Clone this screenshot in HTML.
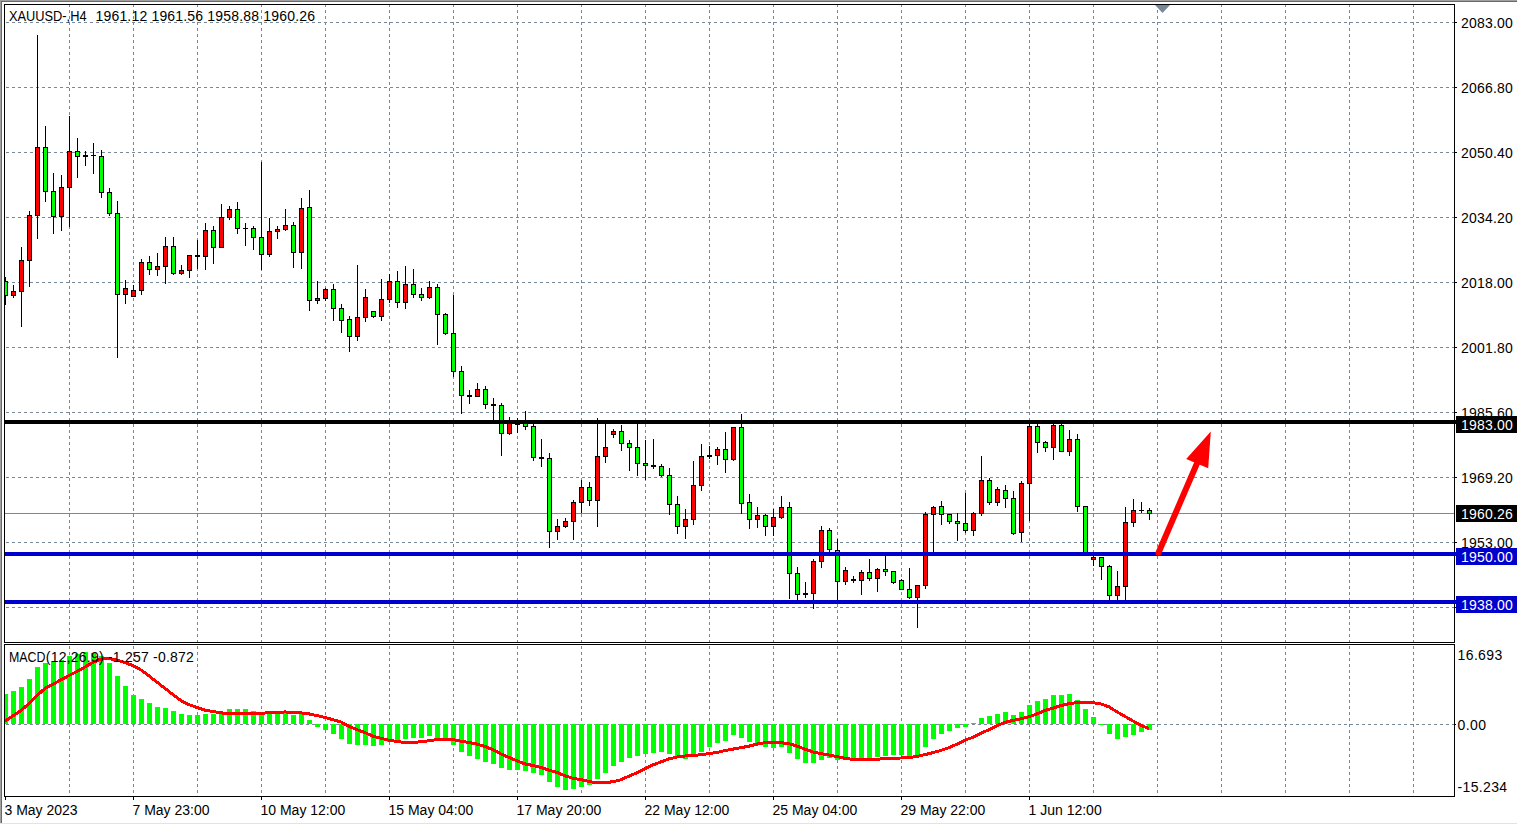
<!DOCTYPE html>
<html><head><meta charset="utf-8"><title>XAUUSD H4</title>
<style>html,body{margin:0;padding:0;background:#fff;overflow:hidden}body{width:1517px;height:825px;position:relative;font-family:"Liberation Sans",sans-serif}svg{position:absolute;left:0;top:0;display:block}text{font-family:"Liberation Sans",sans-serif;font-size:14px;fill:#000}.w{fill:#fff}</style></head><body>
<svg width="1517" height="825" viewBox="0 0 1517 825">
<rect x="0" y="0" width="1517" height="825" fill="#ffffff"/>
<rect x="0" y="0" width="1517" height="1" fill="#a0a0a0"/>
<rect x="0" y="0" width="1" height="823" fill="#a0a0a0"/>
<rect x="1" y="1" width="1516" height="1" fill="#696969"/>
<rect x="1" y="1" width="1" height="822" fill="#696969"/>
<rect x="0" y="823" width="1517" height="1" fill="#e3e3e3"/>
<defs><clipPath id="cp"><rect x="5" y="0" width="1449" height="825"/></clipPath></defs>
<g shape-rendering="crispEdges">
<line x1="69.5" y1="4" x2="69.5" y2="642" stroke="#778899" stroke-width="1" stroke-dasharray="3 3" stroke-dashoffset="0"/>
<line x1="69.5" y1="646" x2="69.5" y2="796" stroke="#778899" stroke-width="1" stroke-dasharray="3 3" stroke-dashoffset="0"/>
<line x1="133.5" y1="4" x2="133.5" y2="642" stroke="#778899" stroke-width="1" stroke-dasharray="3 3" stroke-dashoffset="0"/>
<line x1="133.5" y1="646" x2="133.5" y2="796" stroke="#778899" stroke-width="1" stroke-dasharray="3 3" stroke-dashoffset="0"/>
<line x1="197.5" y1="4" x2="197.5" y2="642" stroke="#778899" stroke-width="1" stroke-dasharray="3 3" stroke-dashoffset="0"/>
<line x1="197.5" y1="646" x2="197.5" y2="796" stroke="#778899" stroke-width="1" stroke-dasharray="3 3" stroke-dashoffset="0"/>
<line x1="261.5" y1="4" x2="261.5" y2="642" stroke="#778899" stroke-width="1" stroke-dasharray="3 3" stroke-dashoffset="0"/>
<line x1="261.5" y1="646" x2="261.5" y2="796" stroke="#778899" stroke-width="1" stroke-dasharray="3 3" stroke-dashoffset="0"/>
<line x1="325.5" y1="4" x2="325.5" y2="642" stroke="#778899" stroke-width="1" stroke-dasharray="3 3" stroke-dashoffset="0"/>
<line x1="325.5" y1="646" x2="325.5" y2="796" stroke="#778899" stroke-width="1" stroke-dasharray="3 3" stroke-dashoffset="0"/>
<line x1="389.5" y1="4" x2="389.5" y2="642" stroke="#778899" stroke-width="1" stroke-dasharray="3 3" stroke-dashoffset="0"/>
<line x1="389.5" y1="646" x2="389.5" y2="796" stroke="#778899" stroke-width="1" stroke-dasharray="3 3" stroke-dashoffset="0"/>
<line x1="453.5" y1="4" x2="453.5" y2="642" stroke="#778899" stroke-width="1" stroke-dasharray="3 3" stroke-dashoffset="0"/>
<line x1="453.5" y1="646" x2="453.5" y2="796" stroke="#778899" stroke-width="1" stroke-dasharray="3 3" stroke-dashoffset="0"/>
<line x1="517.5" y1="4" x2="517.5" y2="642" stroke="#778899" stroke-width="1" stroke-dasharray="3 3" stroke-dashoffset="0"/>
<line x1="517.5" y1="646" x2="517.5" y2="796" stroke="#778899" stroke-width="1" stroke-dasharray="3 3" stroke-dashoffset="0"/>
<line x1="581.5" y1="4" x2="581.5" y2="642" stroke="#778899" stroke-width="1" stroke-dasharray="3 3" stroke-dashoffset="0"/>
<line x1="581.5" y1="646" x2="581.5" y2="796" stroke="#778899" stroke-width="1" stroke-dasharray="3 3" stroke-dashoffset="0"/>
<line x1="645.5" y1="4" x2="645.5" y2="642" stroke="#778899" stroke-width="1" stroke-dasharray="3 3" stroke-dashoffset="0"/>
<line x1="645.5" y1="646" x2="645.5" y2="796" stroke="#778899" stroke-width="1" stroke-dasharray="3 3" stroke-dashoffset="0"/>
<line x1="709.5" y1="4" x2="709.5" y2="642" stroke="#778899" stroke-width="1" stroke-dasharray="3 3" stroke-dashoffset="0"/>
<line x1="709.5" y1="646" x2="709.5" y2="796" stroke="#778899" stroke-width="1" stroke-dasharray="3 3" stroke-dashoffset="0"/>
<line x1="773.5" y1="4" x2="773.5" y2="642" stroke="#778899" stroke-width="1" stroke-dasharray="3 3" stroke-dashoffset="0"/>
<line x1="773.5" y1="646" x2="773.5" y2="796" stroke="#778899" stroke-width="1" stroke-dasharray="3 3" stroke-dashoffset="0"/>
<line x1="837.5" y1="4" x2="837.5" y2="642" stroke="#778899" stroke-width="1" stroke-dasharray="3 3" stroke-dashoffset="0"/>
<line x1="837.5" y1="646" x2="837.5" y2="796" stroke="#778899" stroke-width="1" stroke-dasharray="3 3" stroke-dashoffset="0"/>
<line x1="901.5" y1="4" x2="901.5" y2="642" stroke="#778899" stroke-width="1" stroke-dasharray="3 3" stroke-dashoffset="0"/>
<line x1="901.5" y1="646" x2="901.5" y2="796" stroke="#778899" stroke-width="1" stroke-dasharray="3 3" stroke-dashoffset="0"/>
<line x1="965.5" y1="4" x2="965.5" y2="642" stroke="#778899" stroke-width="1" stroke-dasharray="3 3" stroke-dashoffset="0"/>
<line x1="965.5" y1="646" x2="965.5" y2="796" stroke="#778899" stroke-width="1" stroke-dasharray="3 3" stroke-dashoffset="0"/>
<line x1="1029.5" y1="4" x2="1029.5" y2="642" stroke="#778899" stroke-width="1" stroke-dasharray="3 3" stroke-dashoffset="0"/>
<line x1="1029.5" y1="646" x2="1029.5" y2="796" stroke="#778899" stroke-width="1" stroke-dasharray="3 3" stroke-dashoffset="0"/>
<line x1="1093.5" y1="4" x2="1093.5" y2="642" stroke="#778899" stroke-width="1" stroke-dasharray="3 3" stroke-dashoffset="0"/>
<line x1="1093.5" y1="646" x2="1093.5" y2="796" stroke="#778899" stroke-width="1" stroke-dasharray="3 3" stroke-dashoffset="0"/>
<line x1="1157.5" y1="4" x2="1157.5" y2="642" stroke="#778899" stroke-width="1" stroke-dasharray="3 3" stroke-dashoffset="0"/>
<line x1="1157.5" y1="646" x2="1157.5" y2="796" stroke="#778899" stroke-width="1" stroke-dasharray="3 3" stroke-dashoffset="0"/>
<line x1="1221.5" y1="4" x2="1221.5" y2="642" stroke="#778899" stroke-width="1" stroke-dasharray="3 3" stroke-dashoffset="0"/>
<line x1="1221.5" y1="646" x2="1221.5" y2="796" stroke="#778899" stroke-width="1" stroke-dasharray="3 3" stroke-dashoffset="0"/>
<line x1="1285.5" y1="4" x2="1285.5" y2="642" stroke="#778899" stroke-width="1" stroke-dasharray="3 3" stroke-dashoffset="0"/>
<line x1="1285.5" y1="646" x2="1285.5" y2="796" stroke="#778899" stroke-width="1" stroke-dasharray="3 3" stroke-dashoffset="0"/>
<line x1="1349.5" y1="4" x2="1349.5" y2="642" stroke="#778899" stroke-width="1" stroke-dasharray="3 3" stroke-dashoffset="0"/>
<line x1="1349.5" y1="646" x2="1349.5" y2="796" stroke="#778899" stroke-width="1" stroke-dasharray="3 3" stroke-dashoffset="0"/>
<line x1="1413.5" y1="4" x2="1413.5" y2="642" stroke="#778899" stroke-width="1" stroke-dasharray="3 3" stroke-dashoffset="0"/>
<line x1="1413.5" y1="646" x2="1413.5" y2="796" stroke="#778899" stroke-width="1" stroke-dasharray="3 3" stroke-dashoffset="0"/>
<line x1="6" y1="22.5" x2="1454" y2="22.5" stroke="#778899" stroke-width="1" stroke-dasharray="3 3" stroke-dashoffset="0"/>
<line x1="6" y1="87.5" x2="1454" y2="87.5" stroke="#778899" stroke-width="1" stroke-dasharray="3 3" stroke-dashoffset="0"/>
<line x1="6" y1="152.5" x2="1454" y2="152.5" stroke="#778899" stroke-width="1" stroke-dasharray="3 3" stroke-dashoffset="0"/>
<line x1="6" y1="217.5" x2="1454" y2="217.5" stroke="#778899" stroke-width="1" stroke-dasharray="3 3" stroke-dashoffset="0"/>
<line x1="6" y1="282.5" x2="1454" y2="282.5" stroke="#778899" stroke-width="1" stroke-dasharray="3 3" stroke-dashoffset="0"/>
<line x1="6" y1="347.5" x2="1454" y2="347.5" stroke="#778899" stroke-width="1" stroke-dasharray="3 3" stroke-dashoffset="0"/>
<line x1="6" y1="412.5" x2="1454" y2="412.5" stroke="#778899" stroke-width="1" stroke-dasharray="3 3" stroke-dashoffset="0"/>
<line x1="6" y1="477.5" x2="1454" y2="477.5" stroke="#778899" stroke-width="1" stroke-dasharray="3 3" stroke-dashoffset="0"/>
<line x1="6" y1="542.5" x2="1454" y2="542.5" stroke="#778899" stroke-width="1" stroke-dasharray="3 3" stroke-dashoffset="0"/>
<line x1="6" y1="607.5" x2="1454" y2="607.5" stroke="#778899" stroke-width="1" stroke-dasharray="3 3" stroke-dashoffset="0"/>
<line x1="6" y1="724.5" x2="1454" y2="724.5" stroke="#778899" stroke-width="1" stroke-dasharray="3 3" stroke-dashoffset="0"/>
<rect x="5" y="513" width="1449" height="1" fill="#778899"/>
</g>
<g shape-rendering="crispEdges" clip-path="url(#cp)">
<rect x="3" y="694" width="5" height="30" fill="#00ff00"/>
<rect x="11" y="691" width="5" height="33" fill="#00ff00"/>
<rect x="19" y="687" width="5" height="37" fill="#00ff00"/>
<rect x="27" y="679" width="5" height="45" fill="#00ff00"/>
<rect x="35" y="667" width="5" height="57" fill="#00ff00"/>
<rect x="43" y="663" width="5" height="61" fill="#00ff00"/>
<rect x="51" y="661" width="5" height="63" fill="#00ff00"/>
<rect x="59" y="660" width="5" height="64" fill="#00ff00"/>
<rect x="67" y="656" width="5" height="68" fill="#00ff00"/>
<rect x="75" y="654" width="5" height="70" fill="#00ff00"/>
<rect x="83" y="652" width="5" height="72" fill="#00ff00"/>
<rect x="91" y="653" width="5" height="71" fill="#00ff00"/>
<rect x="99" y="656" width="5" height="68" fill="#00ff00"/>
<rect x="107" y="663" width="5" height="61" fill="#00ff00"/>
<rect x="115" y="676" width="5" height="48" fill="#00ff00"/>
<rect x="123" y="686" width="5" height="38" fill="#00ff00"/>
<rect x="131" y="695" width="5" height="29" fill="#00ff00"/>
<rect x="139" y="699" width="5" height="25" fill="#00ff00"/>
<rect x="147" y="703" width="5" height="21" fill="#00ff00"/>
<rect x="155" y="707" width="5" height="17" fill="#00ff00"/>
<rect x="163" y="708" width="5" height="16" fill="#00ff00"/>
<rect x="171" y="711" width="5" height="13" fill="#00ff00"/>
<rect x="179" y="714" width="5" height="10" fill="#00ff00"/>
<rect x="187" y="715" width="5" height="9" fill="#00ff00"/>
<rect x="195" y="715" width="5" height="9" fill="#00ff00"/>
<rect x="203" y="714" width="5" height="10" fill="#00ff00"/>
<rect x="211" y="714" width="5" height="10" fill="#00ff00"/>
<rect x="219" y="712" width="5" height="12" fill="#00ff00"/>
<rect x="227" y="709" width="5" height="15" fill="#00ff00"/>
<rect x="235" y="709" width="5" height="15" fill="#00ff00"/>
<rect x="243" y="709" width="5" height="15" fill="#00ff00"/>
<rect x="251" y="711" width="5" height="13" fill="#00ff00"/>
<rect x="259" y="712" width="5" height="12" fill="#00ff00"/>
<rect x="267" y="712" width="5" height="12" fill="#00ff00"/>
<rect x="275" y="712" width="5" height="12" fill="#00ff00"/>
<rect x="283" y="711" width="5" height="13" fill="#00ff00"/>
<rect x="291" y="715" width="5" height="9" fill="#00ff00"/>
<rect x="299" y="714" width="5" height="10" fill="#00ff00"/>
<rect x="307" y="720" width="5" height="4" fill="#00ff00"/>
<rect x="315" y="724" width="5" height="3" fill="#00ff00"/>
<rect x="323" y="724" width="5" height="6" fill="#00ff00"/>
<rect x="331" y="724" width="5" height="10" fill="#00ff00"/>
<rect x="339" y="724" width="5" height="15" fill="#00ff00"/>
<rect x="347" y="724" width="5" height="20" fill="#00ff00"/>
<rect x="355" y="724" width="5" height="21" fill="#00ff00"/>
<rect x="363" y="724" width="5" height="21" fill="#00ff00"/>
<rect x="371" y="724" width="5" height="22" fill="#00ff00"/>
<rect x="379" y="724" width="5" height="21" fill="#00ff00"/>
<rect x="387" y="724" width="5" height="18" fill="#00ff00"/>
<rect x="395" y="724" width="5" height="17" fill="#00ff00"/>
<rect x="403" y="724" width="5" height="15" fill="#00ff00"/>
<rect x="411" y="724" width="5" height="14" fill="#00ff00"/>
<rect x="419" y="724" width="5" height="14" fill="#00ff00"/>
<rect x="427" y="724" width="5" height="12" fill="#00ff00"/>
<rect x="435" y="724" width="5" height="15" fill="#00ff00"/>
<rect x="443" y="724" width="5" height="16" fill="#00ff00"/>
<rect x="451" y="724" width="5" height="21" fill="#00ff00"/>
<rect x="459" y="724" width="5" height="28" fill="#00ff00"/>
<rect x="467" y="724" width="5" height="32" fill="#00ff00"/>
<rect x="475" y="724" width="5" height="35" fill="#00ff00"/>
<rect x="483" y="724" width="5" height="38" fill="#00ff00"/>
<rect x="491" y="724" width="5" height="40" fill="#00ff00"/>
<rect x="499" y="724" width="5" height="44" fill="#00ff00"/>
<rect x="507" y="724" width="5" height="46" fill="#00ff00"/>
<rect x="515" y="724" width="5" height="46" fill="#00ff00"/>
<rect x="523" y="724" width="5" height="47" fill="#00ff00"/>
<rect x="531" y="724" width="5" height="49" fill="#00ff00"/>
<rect x="539" y="724" width="5" height="51" fill="#00ff00"/>
<rect x="547" y="724" width="5" height="58" fill="#00ff00"/>
<rect x="555" y="724" width="5" height="63" fill="#00ff00"/>
<rect x="563" y="724" width="5" height="66" fill="#00ff00"/>
<rect x="571" y="724" width="5" height="65" fill="#00ff00"/>
<rect x="579" y="724" width="5" height="63" fill="#00ff00"/>
<rect x="587" y="724" width="5" height="61" fill="#00ff00"/>
<rect x="595" y="724" width="5" height="55" fill="#00ff00"/>
<rect x="603" y="724" width="5" height="49" fill="#00ff00"/>
<rect x="611" y="724" width="5" height="42" fill="#00ff00"/>
<rect x="619" y="724" width="5" height="38" fill="#00ff00"/>
<rect x="627" y="724" width="5" height="34" fill="#00ff00"/>
<rect x="635" y="724" width="5" height="32" fill="#00ff00"/>
<rect x="643" y="724" width="5" height="30" fill="#00ff00"/>
<rect x="651" y="724" width="5" height="29" fill="#00ff00"/>
<rect x="659" y="724" width="5" height="28" fill="#00ff00"/>
<rect x="667" y="724" width="5" height="30" fill="#00ff00"/>
<rect x="675" y="724" width="5" height="33" fill="#00ff00"/>
<rect x="683" y="724" width="5" height="35" fill="#00ff00"/>
<rect x="691" y="724" width="5" height="32" fill="#00ff00"/>
<rect x="699" y="724" width="5" height="28" fill="#00ff00"/>
<rect x="707" y="724" width="5" height="23" fill="#00ff00"/>
<rect x="715" y="724" width="5" height="19" fill="#00ff00"/>
<rect x="723" y="724" width="5" height="17" fill="#00ff00"/>
<rect x="731" y="724" width="5" height="11" fill="#00ff00"/>
<rect x="739" y="724" width="5" height="14" fill="#00ff00"/>
<rect x="747" y="724" width="5" height="18" fill="#00ff00"/>
<rect x="755" y="724" width="5" height="19" fill="#00ff00"/>
<rect x="763" y="724" width="5" height="23" fill="#00ff00"/>
<rect x="771" y="724" width="5" height="24" fill="#00ff00"/>
<rect x="779" y="724" width="5" height="23" fill="#00ff00"/>
<rect x="787" y="724" width="5" height="29" fill="#00ff00"/>
<rect x="795" y="724" width="5" height="35" fill="#00ff00"/>
<rect x="803" y="724" width="5" height="39" fill="#00ff00"/>
<rect x="811" y="724" width="5" height="39" fill="#00ff00"/>
<rect x="819" y="724" width="5" height="36" fill="#00ff00"/>
<rect x="827" y="724" width="5" height="34" fill="#00ff00"/>
<rect x="835" y="724" width="5" height="36" fill="#00ff00"/>
<rect x="843" y="724" width="5" height="36" fill="#00ff00"/>
<rect x="851" y="724" width="5" height="36" fill="#00ff00"/>
<rect x="859" y="724" width="5" height="35" fill="#00ff00"/>
<rect x="867" y="724" width="5" height="35" fill="#00ff00"/>
<rect x="875" y="724" width="5" height="33" fill="#00ff00"/>
<rect x="883" y="724" width="5" height="32" fill="#00ff00"/>
<rect x="891" y="724" width="5" height="31" fill="#00ff00"/>
<rect x="899" y="724" width="5" height="31" fill="#00ff00"/>
<rect x="907" y="724" width="5" height="32" fill="#00ff00"/>
<rect x="915" y="724" width="5" height="32" fill="#00ff00"/>
<rect x="923" y="724" width="5" height="23" fill="#00ff00"/>
<rect x="931" y="724" width="5" height="15" fill="#00ff00"/>
<rect x="939" y="724" width="5" height="10" fill="#00ff00"/>
<rect x="947" y="724" width="5" height="7" fill="#00ff00"/>
<rect x="955" y="724" width="5" height="4" fill="#00ff00"/>
<rect x="963" y="724" width="5" height="3" fill="#00ff00"/>
<rect x="971" y="723" width="5" height="1" fill="#00ff00"/>
<rect x="979" y="718" width="5" height="6" fill="#00ff00"/>
<rect x="987" y="716" width="5" height="8" fill="#00ff00"/>
<rect x="995" y="714" width="5" height="10" fill="#00ff00"/>
<rect x="1003" y="712" width="5" height="12" fill="#00ff00"/>
<rect x="1011" y="715" width="5" height="9" fill="#00ff00"/>
<rect x="1019" y="712" width="5" height="12" fill="#00ff00"/>
<rect x="1027" y="705" width="5" height="19" fill="#00ff00"/>
<rect x="1035" y="701" width="5" height="23" fill="#00ff00"/>
<rect x="1043" y="699" width="5" height="25" fill="#00ff00"/>
<rect x="1051" y="695" width="5" height="29" fill="#00ff00"/>
<rect x="1059" y="695" width="5" height="29" fill="#00ff00"/>
<rect x="1067" y="694" width="5" height="30" fill="#00ff00"/>
<rect x="1075" y="700" width="5" height="24" fill="#00ff00"/>
<rect x="1083" y="709" width="5" height="15" fill="#00ff00"/>
<rect x="1091" y="717" width="5" height="7" fill="#00ff00"/>
<rect x="1099" y="724" width="5" height="1" fill="#00ff00"/>
<rect x="1107" y="724" width="5" height="10" fill="#00ff00"/>
<rect x="1115" y="724" width="5" height="15" fill="#00ff00"/>
<rect x="1123" y="724" width="5" height="13" fill="#00ff00"/>
<rect x="1131" y="724" width="5" height="11" fill="#00ff00"/>
<rect x="1139" y="724" width="5" height="8" fill="#00ff00"/>
<rect x="1147" y="724" width="5" height="6" fill="#00ff00"/>
</g>
<polyline points="5,721.3 13,716.0 21,710.5 29,703.6 37,695.7 45,688.3 53,684.2 61,679.8 69,675.5 77,671.5 85,667.0 93,662.4 101,659.1 109,658.7 117,660.1 125,662.6 133,665.6 141,670.0 149,675.9 157,682.2 165,688.3 173,694.7 181,700.6 189,704.6 197,707.5 205,710.1 213,711.5 221,712.9 229,713.5 237,713.5 245,713.5 253,713.1 261,713.1 269,712.9 277,712.7 285,711.9 293,712.9 301,712.9 309,713.9 317,715.6 325,717.4 333,719.8 341,722.0 349,726.3 357,729.7 365,732.6 373,736.2 381,738.2 389,740.2 397,741.5 405,742.5 413,742.5 421,741.7 429,740.8 437,739.6 445,739.6 453,739.6 461,741.2 469,742.5 477,744.1 485,746.5 493,749.7 501,754.0 509,757.4 517,760.9 525,763.9 533,765.5 541,767.5 549,770.2 557,772.4 565,775.8 573,778.3 581,779.7 589,781.5 597,782.7 605,782.7 613,781.7 621,779.7 629,776.1 637,772.8 645,768.8 653,764.9 661,761.9 669,758.9 677,757.0 685,756.0 693,755.6 701,754.6 709,753.6 717,752.4 725,750.6 733,749.1 741,747.7 749,746.1 757,744.1 765,742.7 773,742.7 781,742.7 789,743.7 797,746.1 805,749.1 813,752.0 821,753.6 829,755.0 837,756.6 845,758.3 853,759.5 861,759.5 869,759.5 877,759.3 885,758.6 893,758.2 901,758.0 909,757.6 917,756.4 925,754.6 933,752.6 941,750.4 949,747.7 957,744.1 965,740.2 973,737.2 981,733.2 989,729.7 997,725.7 1005,722.4 1013,720.4 1021,718.8 1029,716.8 1037,713.9 1045,710.5 1053,708.1 1061,705.6 1069,703.6 1077,702.6 1085,702.0 1093,702.6 1101,704.0 1109,706.9 1117,711.9 1125,716.4 1133,721.0 1141,725.3 1149,728.7" fill="none" stroke="#ff0000" stroke-width="3" stroke-linejoin="round" stroke-linecap="butt" clip-path="url(#cp)" shape-rendering="crispEdges"/>
<g shape-rendering="crispEdges" clip-path="url(#cp)">
<rect x="5" y="277" width="1" height="28" fill="#000"/>
<rect x="3" y="281" width="5" height="15" fill="#000"/>
<rect x="4" y="282" width="3" height="13" fill="#00ff00"/>
<rect x="13" y="285" width="1" height="13" fill="#000"/>
<rect x="11" y="291" width="5" height="5" fill="#000"/>
<rect x="12" y="292" width="3" height="3" fill="#ff0000"/>
<rect x="21" y="247" width="1" height="80" fill="#000"/>
<rect x="19" y="260" width="5" height="32" fill="#000"/>
<rect x="20" y="261" width="3" height="30" fill="#ff0000"/>
<rect x="29" y="211" width="1" height="76" fill="#000"/>
<rect x="27" y="215" width="5" height="46" fill="#000"/>
<rect x="28" y="216" width="3" height="44" fill="#ff0000"/>
<rect x="37" y="35" width="1" height="204" fill="#000"/>
<rect x="35" y="147" width="5" height="69" fill="#000"/>
<rect x="36" y="148" width="3" height="67" fill="#ff0000"/>
<rect x="45" y="126" width="1" height="76" fill="#000"/>
<rect x="43" y="147" width="5" height="45" fill="#000"/>
<rect x="44" y="148" width="3" height="43" fill="#00ff00"/>
<rect x="53" y="173" width="1" height="61" fill="#000"/>
<rect x="51" y="191" width="5" height="26" fill="#000"/>
<rect x="52" y="192" width="3" height="24" fill="#00ff00"/>
<rect x="61" y="175" width="1" height="56" fill="#000"/>
<rect x="59" y="187" width="5" height="30" fill="#000"/>
<rect x="60" y="188" width="3" height="28" fill="#ff0000"/>
<rect x="69" y="116" width="1" height="111" fill="#000"/>
<rect x="67" y="151" width="5" height="37" fill="#000"/>
<rect x="68" y="152" width="3" height="35" fill="#ff0000"/>
<rect x="77" y="138" width="1" height="40" fill="#000"/>
<rect x="75" y="151" width="5" height="6" fill="#000"/>
<rect x="76" y="152" width="3" height="4" fill="#00ff00"/>
<rect x="85" y="151" width="1" height="15" fill="#000"/>
<rect x="83" y="155" width="5" height="2" fill="#000"/>
<rect x="93" y="143" width="1" height="31" fill="#000"/>
<rect x="91" y="155" width="5" height="1" fill="#000"/>
<rect x="101" y="150" width="1" height="48" fill="#000"/>
<rect x="99" y="156" width="5" height="37" fill="#000"/>
<rect x="100" y="157" width="3" height="35" fill="#00ff00"/>
<rect x="109" y="188" width="1" height="28" fill="#000"/>
<rect x="107" y="192" width="5" height="22" fill="#000"/>
<rect x="108" y="193" width="3" height="20" fill="#00ff00"/>
<rect x="117" y="201" width="1" height="157" fill="#000"/>
<rect x="115" y="213" width="5" height="82" fill="#000"/>
<rect x="116" y="214" width="3" height="80" fill="#00ff00"/>
<rect x="125" y="280" width="1" height="24" fill="#000"/>
<rect x="123" y="288" width="5" height="7" fill="#000"/>
<rect x="124" y="289" width="3" height="5" fill="#ff0000"/>
<rect x="133" y="285" width="1" height="12" fill="#000"/>
<rect x="131" y="290" width="5" height="7" fill="#000"/>
<rect x="132" y="291" width="3" height="5" fill="#ff0000"/>
<rect x="141" y="259" width="1" height="36" fill="#000"/>
<rect x="139" y="262" width="5" height="29" fill="#000"/>
<rect x="140" y="263" width="3" height="27" fill="#ff0000"/>
<rect x="149" y="256" width="1" height="19" fill="#000"/>
<rect x="147" y="262" width="5" height="8" fill="#000"/>
<rect x="148" y="263" width="3" height="6" fill="#00ff00"/>
<rect x="157" y="253" width="1" height="23" fill="#000"/>
<rect x="155" y="266" width="5" height="4" fill="#000"/>
<rect x="156" y="267" width="3" height="2" fill="#ff0000"/>
<rect x="165" y="237" width="1" height="47" fill="#000"/>
<rect x="163" y="246" width="5" height="21" fill="#000"/>
<rect x="164" y="247" width="3" height="19" fill="#ff0000"/>
<rect x="173" y="237" width="1" height="38" fill="#000"/>
<rect x="171" y="246" width="5" height="28" fill="#000"/>
<rect x="172" y="247" width="3" height="26" fill="#00ff00"/>
<rect x="181" y="265" width="1" height="10" fill="#000"/>
<rect x="179" y="270" width="5" height="4" fill="#000"/>
<rect x="180" y="271" width="3" height="2" fill="#ff0000"/>
<rect x="189" y="255" width="1" height="23" fill="#000"/>
<rect x="187" y="255" width="5" height="16" fill="#000"/>
<rect x="188" y="256" width="3" height="14" fill="#ff0000"/>
<rect x="197" y="240" width="1" height="29" fill="#000"/>
<rect x="195" y="255" width="5" height="2" fill="#000"/>
<rect x="205" y="223" width="1" height="47" fill="#000"/>
<rect x="203" y="230" width="5" height="27" fill="#000"/>
<rect x="204" y="231" width="3" height="25" fill="#ff0000"/>
<rect x="213" y="226" width="1" height="38" fill="#000"/>
<rect x="211" y="230" width="5" height="18" fill="#000"/>
<rect x="212" y="231" width="3" height="16" fill="#00ff00"/>
<rect x="221" y="204" width="1" height="44" fill="#000"/>
<rect x="219" y="217" width="5" height="31" fill="#000"/>
<rect x="220" y="218" width="3" height="29" fill="#ff0000"/>
<rect x="229" y="206" width="1" height="14" fill="#000"/>
<rect x="227" y="209" width="5" height="9" fill="#000"/>
<rect x="228" y="210" width="3" height="7" fill="#ff0000"/>
<rect x="237" y="202" width="1" height="32" fill="#000"/>
<rect x="235" y="209" width="5" height="20" fill="#000"/>
<rect x="236" y="210" width="3" height="18" fill="#00ff00"/>
<rect x="245" y="223" width="1" height="23" fill="#000"/>
<rect x="243" y="228" width="5" height="1" fill="#000"/>
<rect x="253" y="226" width="1" height="24" fill="#000"/>
<rect x="251" y="228" width="5" height="10" fill="#000"/>
<rect x="252" y="229" width="3" height="8" fill="#00ff00"/>
<rect x="261" y="162" width="1" height="108" fill="#000"/>
<rect x="259" y="237" width="5" height="18" fill="#000"/>
<rect x="260" y="238" width="3" height="16" fill="#00ff00"/>
<rect x="269" y="218" width="1" height="39" fill="#000"/>
<rect x="267" y="231" width="5" height="24" fill="#000"/>
<rect x="268" y="232" width="3" height="22" fill="#ff0000"/>
<rect x="277" y="226" width="1" height="13" fill="#000"/>
<rect x="275" y="229" width="5" height="3" fill="#000"/>
<rect x="276" y="230" width="3" height="1" fill="#ff0000"/>
<rect x="285" y="209" width="1" height="22" fill="#000"/>
<rect x="283" y="225" width="5" height="5" fill="#000"/>
<rect x="284" y="226" width="3" height="3" fill="#ff0000"/>
<rect x="293" y="222" width="1" height="46" fill="#000"/>
<rect x="291" y="225" width="5" height="28" fill="#000"/>
<rect x="292" y="226" width="3" height="26" fill="#00ff00"/>
<rect x="301" y="198" width="1" height="71" fill="#000"/>
<rect x="299" y="208" width="5" height="45" fill="#000"/>
<rect x="300" y="209" width="3" height="43" fill="#ff0000"/>
<rect x="309" y="190" width="1" height="121" fill="#000"/>
<rect x="307" y="207" width="5" height="94" fill="#000"/>
<rect x="308" y="208" width="3" height="92" fill="#00ff00"/>
<rect x="317" y="281" width="1" height="23" fill="#000"/>
<rect x="315" y="298" width="5" height="3" fill="#000"/>
<rect x="316" y="299" width="3" height="1" fill="#ff0000"/>
<rect x="325" y="288" width="1" height="13" fill="#000"/>
<rect x="323" y="289" width="5" height="10" fill="#000"/>
<rect x="324" y="290" width="3" height="8" fill="#ff0000"/>
<rect x="333" y="284" width="1" height="37" fill="#000"/>
<rect x="331" y="289" width="5" height="20" fill="#000"/>
<rect x="332" y="290" width="3" height="18" fill="#00ff00"/>
<rect x="341" y="304" width="1" height="29" fill="#000"/>
<rect x="339" y="308" width="5" height="13" fill="#000"/>
<rect x="340" y="309" width="3" height="11" fill="#00ff00"/>
<rect x="349" y="316" width="1" height="36" fill="#000"/>
<rect x="347" y="319" width="5" height="18" fill="#000"/>
<rect x="348" y="320" width="3" height="16" fill="#00ff00"/>
<rect x="357" y="265" width="1" height="76" fill="#000"/>
<rect x="355" y="317" width="5" height="20" fill="#000"/>
<rect x="356" y="318" width="3" height="18" fill="#ff0000"/>
<rect x="365" y="289" width="1" height="33" fill="#000"/>
<rect x="363" y="297" width="5" height="21" fill="#000"/>
<rect x="364" y="298" width="3" height="19" fill="#ff0000"/>
<rect x="373" y="311" width="1" height="7" fill="#000"/>
<rect x="371" y="311" width="5" height="6" fill="#000"/>
<rect x="372" y="312" width="3" height="4" fill="#00ff00"/>
<rect x="381" y="279" width="1" height="42" fill="#000"/>
<rect x="379" y="299" width="5" height="18" fill="#000"/>
<rect x="380" y="300" width="3" height="16" fill="#ff0000"/>
<rect x="389" y="274" width="1" height="29" fill="#000"/>
<rect x="387" y="281" width="5" height="19" fill="#000"/>
<rect x="388" y="282" width="3" height="17" fill="#ff0000"/>
<rect x="397" y="271" width="1" height="37" fill="#000"/>
<rect x="395" y="281" width="5" height="22" fill="#000"/>
<rect x="396" y="282" width="3" height="20" fill="#00ff00"/>
<rect x="405" y="266" width="1" height="43" fill="#000"/>
<rect x="403" y="284" width="5" height="19" fill="#000"/>
<rect x="404" y="285" width="3" height="17" fill="#ff0000"/>
<rect x="413" y="269" width="1" height="29" fill="#000"/>
<rect x="411" y="284" width="5" height="11" fill="#000"/>
<rect x="412" y="285" width="3" height="9" fill="#00ff00"/>
<rect x="421" y="288" width="1" height="13" fill="#000"/>
<rect x="419" y="294" width="5" height="4" fill="#000"/>
<rect x="420" y="295" width="3" height="2" fill="#00ff00"/>
<rect x="429" y="281" width="1" height="18" fill="#000"/>
<rect x="427" y="287" width="5" height="11" fill="#000"/>
<rect x="428" y="288" width="3" height="9" fill="#ff0000"/>
<rect x="437" y="284" width="1" height="61" fill="#000"/>
<rect x="435" y="287" width="5" height="28" fill="#000"/>
<rect x="436" y="288" width="3" height="26" fill="#00ff00"/>
<rect x="445" y="313" width="1" height="22" fill="#000"/>
<rect x="443" y="314" width="5" height="20" fill="#000"/>
<rect x="444" y="315" width="3" height="18" fill="#00ff00"/>
<rect x="453" y="295" width="1" height="82" fill="#000"/>
<rect x="451" y="333" width="5" height="39" fill="#000"/>
<rect x="452" y="334" width="3" height="37" fill="#00ff00"/>
<rect x="461" y="366" width="1" height="48" fill="#000"/>
<rect x="459" y="371" width="5" height="25" fill="#000"/>
<rect x="460" y="372" width="3" height="23" fill="#00ff00"/>
<rect x="469" y="390" width="1" height="14" fill="#000"/>
<rect x="467" y="395" width="5" height="2" fill="#000"/>
<rect x="477" y="383" width="1" height="14" fill="#000"/>
<rect x="475" y="389" width="5" height="8" fill="#000"/>
<rect x="476" y="390" width="3" height="6" fill="#ff0000"/>
<rect x="485" y="386" width="1" height="23" fill="#000"/>
<rect x="483" y="389" width="5" height="16" fill="#000"/>
<rect x="484" y="390" width="3" height="14" fill="#00ff00"/>
<rect x="493" y="398" width="1" height="22" fill="#000"/>
<rect x="491" y="404" width="5" height="2" fill="#000"/>
<rect x="501" y="403" width="1" height="53" fill="#000"/>
<rect x="499" y="405" width="5" height="29" fill="#000"/>
<rect x="500" y="406" width="3" height="27" fill="#00ff00"/>
<rect x="509" y="417" width="1" height="18" fill="#000"/>
<rect x="507" y="421" width="5" height="13" fill="#000"/>
<rect x="508" y="422" width="3" height="11" fill="#ff0000"/>
<rect x="517" y="418" width="1" height="15" fill="#000"/>
<rect x="515" y="424" width="5" height="1" fill="#000"/>
<rect x="525" y="411" width="1" height="19" fill="#000"/>
<rect x="523" y="423" width="5" height="4" fill="#000"/>
<rect x="524" y="424" width="3" height="2" fill="#00ff00"/>
<rect x="533" y="424" width="1" height="37" fill="#000"/>
<rect x="531" y="426" width="5" height="32" fill="#000"/>
<rect x="532" y="427" width="3" height="30" fill="#00ff00"/>
<rect x="541" y="439" width="1" height="28" fill="#000"/>
<rect x="539" y="457" width="5" height="2" fill="#000"/>
<rect x="549" y="453" width="1" height="95" fill="#000"/>
<rect x="547" y="458" width="5" height="74" fill="#000"/>
<rect x="548" y="459" width="3" height="72" fill="#00ff00"/>
<rect x="557" y="519" width="1" height="21" fill="#000"/>
<rect x="555" y="526" width="5" height="6" fill="#000"/>
<rect x="556" y="527" width="3" height="4" fill="#ff0000"/>
<rect x="565" y="518" width="1" height="10" fill="#000"/>
<rect x="563" y="521" width="5" height="6" fill="#000"/>
<rect x="564" y="522" width="3" height="4" fill="#ff0000"/>
<rect x="573" y="500" width="1" height="40" fill="#000"/>
<rect x="571" y="502" width="5" height="20" fill="#000"/>
<rect x="572" y="503" width="3" height="18" fill="#ff0000"/>
<rect x="581" y="480" width="1" height="33" fill="#000"/>
<rect x="579" y="487" width="5" height="16" fill="#000"/>
<rect x="580" y="488" width="3" height="14" fill="#ff0000"/>
<rect x="589" y="482" width="1" height="24" fill="#000"/>
<rect x="587" y="487" width="5" height="14" fill="#000"/>
<rect x="588" y="488" width="3" height="12" fill="#00ff00"/>
<rect x="597" y="418" width="1" height="109" fill="#000"/>
<rect x="595" y="456" width="5" height="45" fill="#000"/>
<rect x="596" y="457" width="3" height="43" fill="#ff0000"/>
<rect x="605" y="420" width="1" height="43" fill="#000"/>
<rect x="603" y="447" width="5" height="10" fill="#000"/>
<rect x="604" y="448" width="3" height="8" fill="#ff0000"/>
<rect x="613" y="429" width="1" height="9" fill="#000"/>
<rect x="611" y="431" width="5" height="4" fill="#000"/>
<rect x="612" y="432" width="3" height="2" fill="#ff0000"/>
<rect x="621" y="425" width="1" height="26" fill="#000"/>
<rect x="619" y="431" width="5" height="13" fill="#000"/>
<rect x="620" y="432" width="3" height="11" fill="#00ff00"/>
<rect x="629" y="440" width="1" height="31" fill="#000"/>
<rect x="627" y="443" width="5" height="5" fill="#000"/>
<rect x="628" y="444" width="3" height="3" fill="#00ff00"/>
<rect x="637" y="420" width="1" height="56" fill="#000"/>
<rect x="635" y="447" width="5" height="17" fill="#000"/>
<rect x="636" y="448" width="3" height="15" fill="#00ff00"/>
<rect x="645" y="440" width="1" height="40" fill="#000"/>
<rect x="643" y="463" width="5" height="3" fill="#000"/>
<rect x="644" y="464" width="3" height="1" fill="#00ff00"/>
<rect x="653" y="439" width="1" height="30" fill="#000"/>
<rect x="651" y="465" width="5" height="2" fill="#000"/>
<rect x="661" y="464" width="1" height="13" fill="#000"/>
<rect x="659" y="466" width="5" height="10" fill="#000"/>
<rect x="660" y="467" width="3" height="8" fill="#00ff00"/>
<rect x="669" y="468" width="1" height="47" fill="#000"/>
<rect x="667" y="475" width="5" height="30" fill="#000"/>
<rect x="668" y="476" width="3" height="28" fill="#00ff00"/>
<rect x="677" y="496" width="1" height="38" fill="#000"/>
<rect x="675" y="504" width="5" height="23" fill="#000"/>
<rect x="676" y="505" width="3" height="21" fill="#00ff00"/>
<rect x="685" y="509" width="1" height="30" fill="#000"/>
<rect x="683" y="519" width="5" height="8" fill="#000"/>
<rect x="684" y="520" width="3" height="6" fill="#ff0000"/>
<rect x="693" y="461" width="1" height="64" fill="#000"/>
<rect x="691" y="485" width="5" height="35" fill="#000"/>
<rect x="692" y="486" width="3" height="33" fill="#ff0000"/>
<rect x="701" y="444" width="1" height="47" fill="#000"/>
<rect x="699" y="456" width="5" height="30" fill="#000"/>
<rect x="700" y="457" width="3" height="28" fill="#ff0000"/>
<rect x="709" y="446" width="1" height="13" fill="#000"/>
<rect x="707" y="455" width="5" height="2" fill="#000"/>
<rect x="717" y="447" width="1" height="18" fill="#000"/>
<rect x="715" y="449" width="5" height="7" fill="#000"/>
<rect x="716" y="450" width="3" height="5" fill="#ff0000"/>
<rect x="725" y="432" width="1" height="41" fill="#000"/>
<rect x="723" y="449" width="5" height="11" fill="#000"/>
<rect x="724" y="450" width="3" height="9" fill="#00ff00"/>
<rect x="733" y="427" width="1" height="34" fill="#000"/>
<rect x="731" y="427" width="5" height="33" fill="#000"/>
<rect x="732" y="428" width="3" height="31" fill="#ff0000"/>
<rect x="741" y="414" width="1" height="100" fill="#000"/>
<rect x="739" y="427" width="5" height="77" fill="#000"/>
<rect x="740" y="428" width="3" height="75" fill="#00ff00"/>
<rect x="749" y="494" width="1" height="35" fill="#000"/>
<rect x="747" y="502" width="5" height="18" fill="#000"/>
<rect x="748" y="503" width="3" height="16" fill="#00ff00"/>
<rect x="757" y="507" width="1" height="21" fill="#000"/>
<rect x="755" y="515" width="5" height="5" fill="#000"/>
<rect x="756" y="516" width="3" height="3" fill="#ff0000"/>
<rect x="765" y="514" width="1" height="22" fill="#000"/>
<rect x="763" y="515" width="5" height="12" fill="#000"/>
<rect x="764" y="516" width="3" height="10" fill="#00ff00"/>
<rect x="773" y="509" width="1" height="27" fill="#000"/>
<rect x="771" y="517" width="5" height="10" fill="#000"/>
<rect x="772" y="518" width="3" height="8" fill="#ff0000"/>
<rect x="781" y="496" width="1" height="23" fill="#000"/>
<rect x="779" y="507" width="5" height="11" fill="#000"/>
<rect x="780" y="508" width="3" height="9" fill="#ff0000"/>
<rect x="789" y="502" width="1" height="97" fill="#000"/>
<rect x="787" y="507" width="5" height="67" fill="#000"/>
<rect x="788" y="508" width="3" height="65" fill="#00ff00"/>
<rect x="797" y="567" width="1" height="33" fill="#000"/>
<rect x="795" y="573" width="5" height="22" fill="#000"/>
<rect x="796" y="574" width="3" height="20" fill="#00ff00"/>
<rect x="805" y="582" width="1" height="16" fill="#000"/>
<rect x="803" y="593" width="5" height="2" fill="#000"/>
<rect x="813" y="559" width="1" height="50" fill="#000"/>
<rect x="811" y="561" width="5" height="33" fill="#000"/>
<rect x="812" y="562" width="3" height="31" fill="#ff0000"/>
<rect x="821" y="526" width="1" height="42" fill="#000"/>
<rect x="819" y="530" width="5" height="32" fill="#000"/>
<rect x="820" y="531" width="3" height="30" fill="#ff0000"/>
<rect x="829" y="528" width="1" height="24" fill="#000"/>
<rect x="827" y="530" width="5" height="20" fill="#000"/>
<rect x="828" y="531" width="3" height="18" fill="#00ff00"/>
<rect x="837" y="539" width="1" height="62" fill="#000"/>
<rect x="835" y="550" width="5" height="32" fill="#000"/>
<rect x="836" y="551" width="3" height="30" fill="#00ff00"/>
<rect x="845" y="567" width="1" height="18" fill="#000"/>
<rect x="843" y="570" width="5" height="12" fill="#000"/>
<rect x="844" y="571" width="3" height="10" fill="#ff0000"/>
<rect x="853" y="576" width="1" height="7" fill="#000"/>
<rect x="851" y="579" width="5" height="2" fill="#000"/>
<rect x="861" y="570" width="1" height="25" fill="#000"/>
<rect x="859" y="572" width="5" height="9" fill="#000"/>
<rect x="860" y="573" width="3" height="7" fill="#ff0000"/>
<rect x="869" y="559" width="1" height="22" fill="#000"/>
<rect x="867" y="572" width="5" height="7" fill="#000"/>
<rect x="868" y="573" width="3" height="5" fill="#00ff00"/>
<rect x="877" y="568" width="1" height="24" fill="#000"/>
<rect x="875" y="569" width="5" height="10" fill="#000"/>
<rect x="876" y="570" width="3" height="8" fill="#ff0000"/>
<rect x="885" y="555" width="1" height="21" fill="#000"/>
<rect x="883" y="569" width="5" height="3" fill="#000"/>
<rect x="884" y="570" width="3" height="1" fill="#00ff00"/>
<rect x="893" y="571" width="1" height="13" fill="#000"/>
<rect x="891" y="571" width="5" height="12" fill="#000"/>
<rect x="892" y="572" width="3" height="10" fill="#00ff00"/>
<rect x="901" y="579" width="1" height="11" fill="#000"/>
<rect x="899" y="580" width="5" height="10" fill="#000"/>
<rect x="900" y="581" width="3" height="8" fill="#00ff00"/>
<rect x="909" y="568" width="1" height="31" fill="#000"/>
<rect x="907" y="589" width="5" height="9" fill="#000"/>
<rect x="908" y="590" width="3" height="7" fill="#00ff00"/>
<rect x="917" y="585" width="1" height="43" fill="#000"/>
<rect x="915" y="585" width="5" height="13" fill="#000"/>
<rect x="916" y="586" width="3" height="11" fill="#ff0000"/>
<rect x="925" y="512" width="1" height="77" fill="#000"/>
<rect x="923" y="514" width="5" height="72" fill="#000"/>
<rect x="924" y="515" width="3" height="70" fill="#ff0000"/>
<rect x="933" y="506" width="1" height="47" fill="#000"/>
<rect x="931" y="507" width="5" height="8" fill="#000"/>
<rect x="932" y="508" width="3" height="6" fill="#ff0000"/>
<rect x="941" y="501" width="1" height="24" fill="#000"/>
<rect x="939" y="506" width="5" height="9" fill="#000"/>
<rect x="940" y="507" width="3" height="7" fill="#00ff00"/>
<rect x="949" y="514" width="1" height="10" fill="#000"/>
<rect x="947" y="514" width="5" height="8" fill="#000"/>
<rect x="948" y="515" width="3" height="6" fill="#00ff00"/>
<rect x="957" y="513" width="1" height="28" fill="#000"/>
<rect x="955" y="521" width="5" height="3" fill="#000"/>
<rect x="956" y="522" width="3" height="1" fill="#00ff00"/>
<rect x="965" y="493" width="1" height="40" fill="#000"/>
<rect x="963" y="523" width="5" height="8" fill="#000"/>
<rect x="964" y="524" width="3" height="6" fill="#00ff00"/>
<rect x="973" y="512" width="1" height="24" fill="#000"/>
<rect x="971" y="513" width="5" height="18" fill="#000"/>
<rect x="972" y="514" width="3" height="16" fill="#ff0000"/>
<rect x="981" y="456" width="1" height="60" fill="#000"/>
<rect x="979" y="480" width="5" height="34" fill="#000"/>
<rect x="980" y="481" width="3" height="32" fill="#ff0000"/>
<rect x="989" y="478" width="1" height="27" fill="#000"/>
<rect x="987" y="480" width="5" height="23" fill="#000"/>
<rect x="988" y="481" width="3" height="21" fill="#00ff00"/>
<rect x="997" y="487" width="1" height="19" fill="#000"/>
<rect x="995" y="489" width="5" height="14" fill="#000"/>
<rect x="996" y="490" width="3" height="12" fill="#ff0000"/>
<rect x="1005" y="485" width="1" height="23" fill="#000"/>
<rect x="1003" y="490" width="5" height="9" fill="#000"/>
<rect x="1004" y="491" width="3" height="7" fill="#00ff00"/>
<rect x="1013" y="491" width="1" height="44" fill="#000"/>
<rect x="1011" y="498" width="5" height="36" fill="#000"/>
<rect x="1012" y="499" width="3" height="34" fill="#00ff00"/>
<rect x="1021" y="481" width="1" height="61" fill="#000"/>
<rect x="1019" y="483" width="5" height="50" fill="#000"/>
<rect x="1020" y="484" width="3" height="48" fill="#ff0000"/>
<rect x="1029" y="420" width="1" height="101" fill="#000"/>
<rect x="1027" y="426" width="5" height="58" fill="#000"/>
<rect x="1028" y="427" width="3" height="56" fill="#ff0000"/>
<rect x="1037" y="420" width="1" height="33" fill="#000"/>
<rect x="1035" y="426" width="5" height="17" fill="#000"/>
<rect x="1036" y="427" width="3" height="15" fill="#00ff00"/>
<rect x="1045" y="441" width="1" height="11" fill="#000"/>
<rect x="1043" y="442" width="5" height="6" fill="#000"/>
<rect x="1044" y="443" width="3" height="4" fill="#00ff00"/>
<rect x="1053" y="420" width="1" height="40" fill="#000"/>
<rect x="1051" y="425" width="5" height="23" fill="#000"/>
<rect x="1052" y="426" width="3" height="21" fill="#ff0000"/>
<rect x="1061" y="420" width="1" height="32" fill="#000"/>
<rect x="1059" y="425" width="5" height="27" fill="#000"/>
<rect x="1060" y="426" width="3" height="25" fill="#00ff00"/>
<rect x="1069" y="430" width="1" height="26" fill="#000"/>
<rect x="1067" y="439" width="5" height="13" fill="#000"/>
<rect x="1068" y="440" width="3" height="11" fill="#ff0000"/>
<rect x="1077" y="434" width="1" height="78" fill="#000"/>
<rect x="1075" y="439" width="5" height="68" fill="#000"/>
<rect x="1076" y="440" width="3" height="66" fill="#00ff00"/>
<rect x="1085" y="506" width="1" height="47" fill="#000"/>
<rect x="1083" y="506" width="5" height="47" fill="#000"/>
<rect x="1084" y="507" width="3" height="45" fill="#00ff00"/>
<rect x="1093" y="555" width="1" height="11" fill="#000"/>
<rect x="1091" y="557" width="5" height="3" fill="#000"/>
<rect x="1092" y="558" width="3" height="1" fill="#ff0000"/>
<rect x="1101" y="557" width="1" height="23" fill="#000"/>
<rect x="1099" y="557" width="5" height="10" fill="#000"/>
<rect x="1100" y="558" width="3" height="8" fill="#00ff00"/>
<rect x="1109" y="565" width="1" height="36" fill="#000"/>
<rect x="1107" y="566" width="5" height="30" fill="#000"/>
<rect x="1108" y="567" width="3" height="28" fill="#00ff00"/>
<rect x="1117" y="571" width="1" height="30" fill="#000"/>
<rect x="1115" y="586" width="5" height="10" fill="#000"/>
<rect x="1116" y="587" width="3" height="8" fill="#ff0000"/>
<rect x="1125" y="507" width="1" height="94" fill="#000"/>
<rect x="1123" y="522" width="5" height="65" fill="#000"/>
<rect x="1124" y="523" width="3" height="63" fill="#ff0000"/>
<rect x="1133" y="499" width="1" height="28" fill="#000"/>
<rect x="1131" y="510" width="5" height="13" fill="#000"/>
<rect x="1132" y="511" width="3" height="11" fill="#ff0000"/>
<rect x="1141" y="502" width="1" height="11" fill="#000"/>
<rect x="1139" y="510" width="5" height="1" fill="#000"/>
<rect x="1149" y="508" width="1" height="12" fill="#000"/>
<rect x="1147" y="510" width="5" height="4" fill="#000"/>
<rect x="1148" y="511" width="3" height="2" fill="#00ff00"/>
</g>
<g shape-rendering="crispEdges">
<rect x="5" y="420" width="1451" height="4" fill="#000"/>
<rect x="5" y="552" width="1451" height="4" fill="#0000cd"/>
<rect x="5" y="600" width="1451" height="4" fill="#0000cd"/>
<rect x="4" y="4" width="1451" height="1" fill="#000"/>
<rect x="4" y="642" width="1451" height="1" fill="#000"/>
<rect x="4" y="644" width="1451" height="1" fill="#000"/>
<rect x="4" y="796" width="1451" height="1" fill="#000"/>
<rect x="4" y="4" width="1" height="639" fill="#000"/>
<rect x="4" y="644" width="1" height="153" fill="#000"/>
<rect x="1454" y="4" width="1" height="639" fill="#000"/>
<rect x="1454" y="644" width="1" height="153" fill="#000"/>
<rect x="1455" y="22" width="2" height="1" fill="#000"/>
<rect x="1455" y="87" width="2" height="1" fill="#000"/>
<rect x="1455" y="152" width="2" height="1" fill="#000"/>
<rect x="1455" y="217" width="2" height="1" fill="#000"/>
<rect x="1455" y="282" width="2" height="1" fill="#000"/>
<rect x="1455" y="347" width="2" height="1" fill="#000"/>
<rect x="1455" y="412" width="2" height="1" fill="#000"/>
<rect x="1455" y="477" width="2" height="1" fill="#000"/>
<rect x="1455" y="542" width="2" height="1" fill="#000"/>
<rect x="1455" y="607" width="2" height="1" fill="#000"/>
<rect x="1455" y="724" width="1" height="1" fill="#000"/>
<rect x="1454" y="420" width="2" height="4" fill="#000"/>
<rect x="1454" y="552" width="2" height="4" fill="#0000cd"/>
<rect x="1454" y="600" width="2" height="4" fill="#0000cd"/>
<rect x="5" y="797" width="1" height="3" fill="#000"/>
<rect x="133" y="797" width="1" height="3" fill="#000"/>
<rect x="261" y="797" width="1" height="3" fill="#000"/>
<rect x="389" y="797" width="1" height="3" fill="#000"/>
<rect x="517" y="797" width="1" height="3" fill="#000"/>
<rect x="645" y="797" width="1" height="3" fill="#000"/>
<rect x="773" y="797" width="1" height="3" fill="#000"/>
<rect x="901" y="797" width="1" height="3" fill="#000"/>
<rect x="1029" y="797" width="1" height="3" fill="#000"/>
<rect x="1456" y="416" width="61" height="17" fill="#000"/>
<rect x="1456" y="505" width="61" height="17" fill="#000"/>
<rect x="1456" y="548" width="61" height="17" fill="#0000cd"/>
<rect x="1456" y="596" width="61" height="17" fill="#0000cd"/>
</g>
<polygon points="1155,5 1170,5 1162.5,13" fill="#778899"/>
<line x1="1158.5" y1="552.7" x2="1198" y2="461" stroke="#ff0000" stroke-width="6" stroke-linecap="round"/>
<polygon points="1210.8,431.4 1186.2,459 1208.2,468.3" fill="#ff0000"/>
<text x="1461" y="28" textLength="51.9">2083.00</text>
<text x="1461" y="93" textLength="51.9">2066.80</text>
<text x="1461" y="158" textLength="51.9">2050.40</text>
<text x="1461" y="223" textLength="51.9">2034.20</text>
<text x="1461" y="288" textLength="51.9">2018.00</text>
<text x="1461" y="353" textLength="51.9">2001.80</text>
<text x="1461" y="418" textLength="51.9">1985.60</text>
<text x="1461" y="483" textLength="51.9">1969.20</text>
<text x="1461" y="548" textLength="51.9">1953.00</text>
<text x="1461" y="430" class="w" textLength="51.9">1983.00</text>
<text x="1461" y="519" class="w" textLength="51.9">1960.26</text>
<text x="1461" y="562" class="w" textLength="51.9">1950.00</text>
<text x="1461" y="610" class="w" textLength="51.9">1938.00</text>
<text x="1457.6" y="660" textLength="44.6">16.693</text>
<text x="1457.6" y="730" textLength="28.5">0.00</text>
<text x="1457.6" y="792" textLength="49.5">-15.234</text>
<text x="9" y="21" id="title" textLength="77.5" lengthAdjust="spacingAndGlyphs">XAUUSD-,H4</text>
<text x="95.5" y="21" textLength="219.5" lengthAdjust="spacing">1961.12 1961.56 1958.88 1960.26</text>
<text x="9" y="662" id="macd" textLength="36.5" lengthAdjust="spacingAndGlyphs">MACD</text>
<text x="45.8" y="662" textLength="148" lengthAdjust="spacing">(12,26,9) -1.257 -0.872</text>
<text x="4.5" y="814.5">3 May 2023</text>
<text x="132.5" y="814.5">7 May 23:00</text>
<text x="260.5" y="814.5">10 May 12:00</text>
<text x="388.5" y="814.5">15 May 04:00</text>
<text x="516.5" y="814.5">17 May 20:00</text>
<text x="644.5" y="814.5">22 May 12:00</text>
<text x="772.5" y="814.5">25 May 04:00</text>
<text x="900.5" y="814.5">29 May 22:00</text>
<text x="1028.5" y="814.5">1 Jun 12:00</text>
</svg></body></html>
